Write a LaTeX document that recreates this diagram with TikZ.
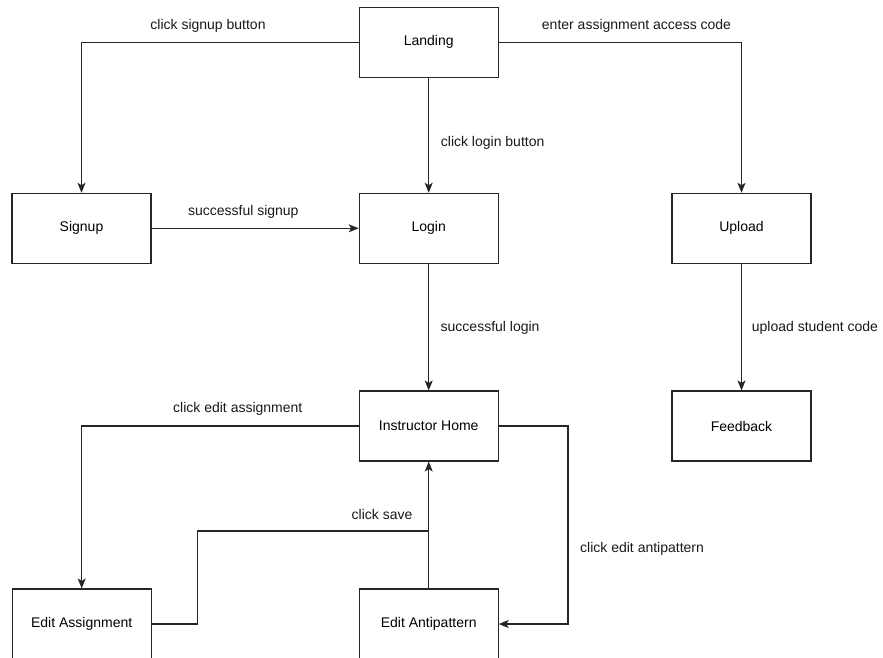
\documentclass[tikz,border=0pt]{standalone}
\usepackage{fontspec}
\setmainfont{Liberation Sans}
\usetikzlibrary{arrows.meta,calc}
\begin{document}
\begin{tikzpicture}[x=1pt,y=-1pt,
  font=\fontsize{14}{17}\selectfont,
  screen/.style={draw=black!85,line width=1.1pt,minimum width=139pt,minimum height=70pt,inner sep=0pt,align=center},
  flow/.style={draw=black!85,line width=1.1pt,-{Stealth[length=10pt,width=8pt,inset=2.5pt]}},
  plain/.style={draw=black!85,line width=1.1pt},
  lbl/.style={inner sep=0pt,text=black!90}]
  \useasboundingbox (0,0) rectangle (883,658);

  % screens
  \node[screen] (landing)  at (428.7,42.3)  {Landing};
  \node[screen] (signup)   at (81.5,228.3)  {Signup};
  \node[screen] (login)    at (428.7,228.3) {Login};
  \node[screen] (upload)   at (741.5,228.3) {Upload};
  \node[screen] (home)     at (428.7,426)   {Instructor Home};
  \node[screen] (feedback) at (741.5,426)   {Feedback};
  \node[screen] (edita)    at (81.7,624)    {Edit Assignment};
  \node[screen] (editp)    at (428.7,624)   {Edit Antipattern};

  % routing points
  \coordinate (rt) at (568,426);
  \coordinate (sv) at (197.3,531);
  \coordinate (jn) at (428.7,531);

  % transitions
  \draw[flow] (landing.west) -| (signup.north);
  \draw[flow] (landing.east) -| (upload.north);
  \draw[flow] (landing.south) -- (login.north);
  \draw[flow] (signup.east) -- (login.west);
  \draw[flow] (login.south) -- (home.north);
  \draw[flow] (upload.south) -- (feedback.north);
  \draw[flow] (home.west) -| (edita.north);
  \draw[flow] (home.east) -- (rt) |- (editp.east);
  \draw[flow] (editp.north) -- (home.south);
  \draw[plain] (edita.east) -| (sv) -- (jn);

  % transition labels
  \node[lbl] (l1) at (208,25.7) {click signup button};
  \node[lbl] (l2) at (636.5,26) {enter assignment access code};
  \node[lbl,anchor=west] (l3) at (440.7,142.7) {click login button};
  \node[lbl] (l4) at (243.3,211.7) {successful signup};
  \node[lbl,anchor=west] (l5) at (440.5,328) {successful login};
  \node[lbl,anchor=west] (l6) at (751.7,327.7) {upload student code};
  \node[lbl] (l7) at (237.8,409.3) {click edit assignment};
  \node[lbl] (l8) at (382,514.3) {click save};
  \node[lbl,anchor=west] (l9) at (580,549) {click edit antipattern};
\end{tikzpicture}
\end{document}
